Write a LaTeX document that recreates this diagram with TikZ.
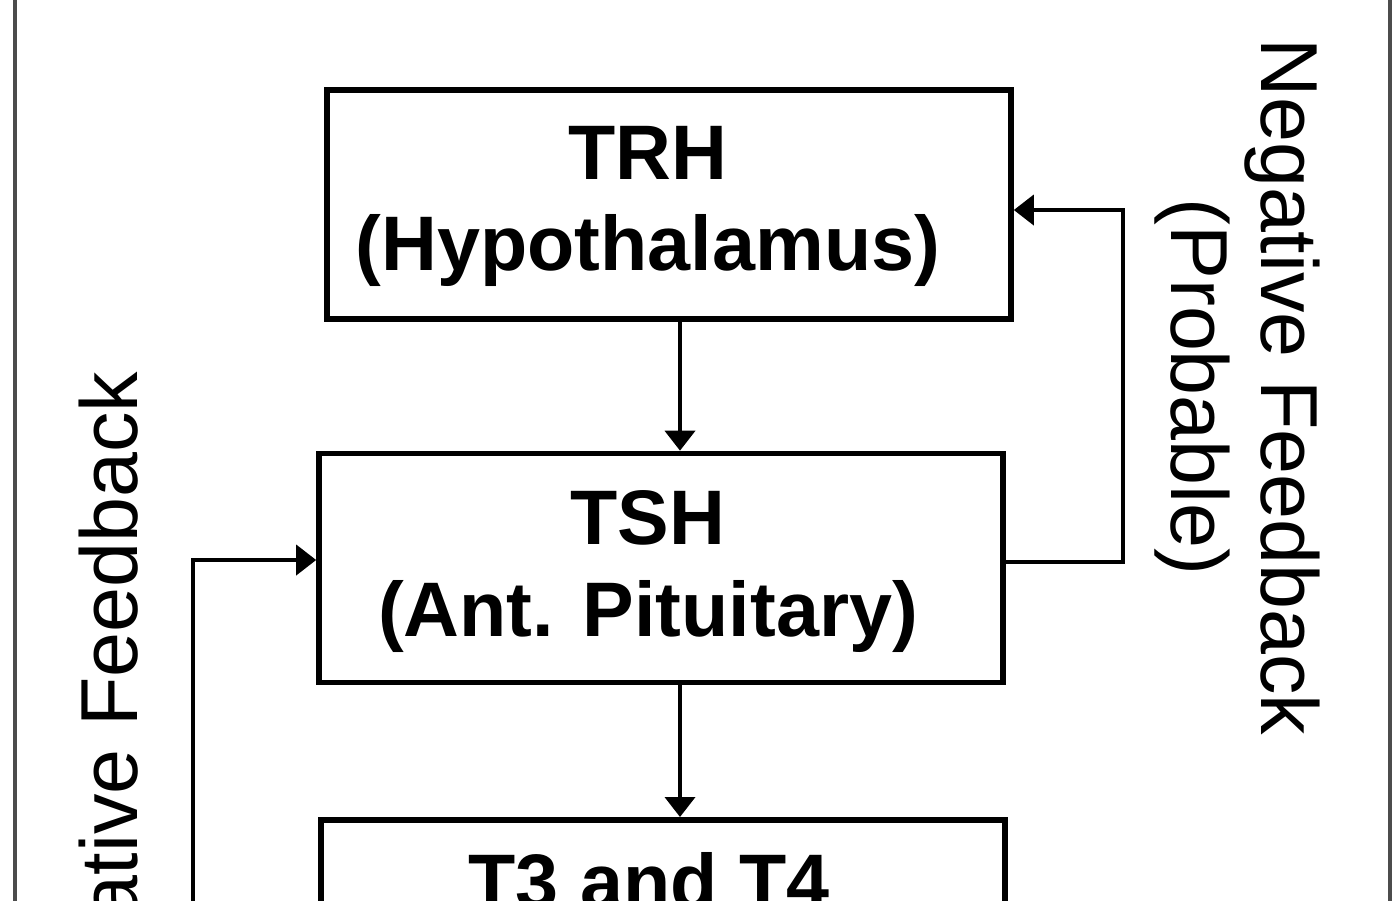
\documentclass[tikz,border=0pt]{standalone}
\usepackage{fontspec}
\setmainfont{Liberation Sans}
\usetikzlibrary{arrows.meta}

\begin{document}
\begin{tikzpicture}[
  gland/.style={draw,line width=1.6pt,minimum width=6.84cm,minimum height=2.29cm,inner sep=0pt},
  glandtext/.style={align=center,inner sep=0pt,font=\fontsize{22}{26}\selectfont\bfseries},
  fbtext/.style={align=center,inner sep=0pt,font=\fontsize{23}{25.6}\selectfont},
  conn/.style={line width=1.1pt,-{Triangle[length=2mm,width=3mm]}}]
  \useasboundingbox (0,0) rectangle (14,-9);
  \clip (0,0) rectangle (14,-9);
  \draw[line width=0.9pt,black!70] (0.15,0.5) rectangle (13.9,-9.5);
  \coordinate (spine) at (6.8,0);
  \coordinate (rloop) at (11.23,-2.10);
  \coordinate (lfoot) at (1.93,-9.5);
  \node[gland] (trh) at (6.69,-2.045) {};
  \node[gland] (tsh) at (6.61,-5.68) {};
  \node[gland,anchor=north] (thy) at (6.63,-8.17) {};
  \node[glandtext] (trhlbl) at (6.48,-2.065) {TRH\\(Hypothalamus)};
  \node[glandtext] (tshlbl) at (6.48,-5.715) {TSH\\(Ant. Pituitary)};
  \node[glandtext,anchor=base] (thylbl) at (6.49,-9.08) {T3 and T4};
  \draw[conn] (trh.south -| spine) -- (tsh.north -| spine);
  \draw[conn] (tsh.south -| spine) -- (thy.north -| spine);
  \draw[conn] ([yshift=0.06cm]tsh.east) -| (rloop) -- (trh.east |- rloop);
  \draw[conn] (lfoot) |- ([yshift=0.08cm]tsh.west);
  \node[fbtext,rotate=-90] (fbright) at (12.375,-3.87) {Negative Feedback\\(Probable)};
  \node[fbtext,rotate=90] (fbleft) at (1.165,-7.20) {Negative Feedback};
\end{tikzpicture}
\end{document}
